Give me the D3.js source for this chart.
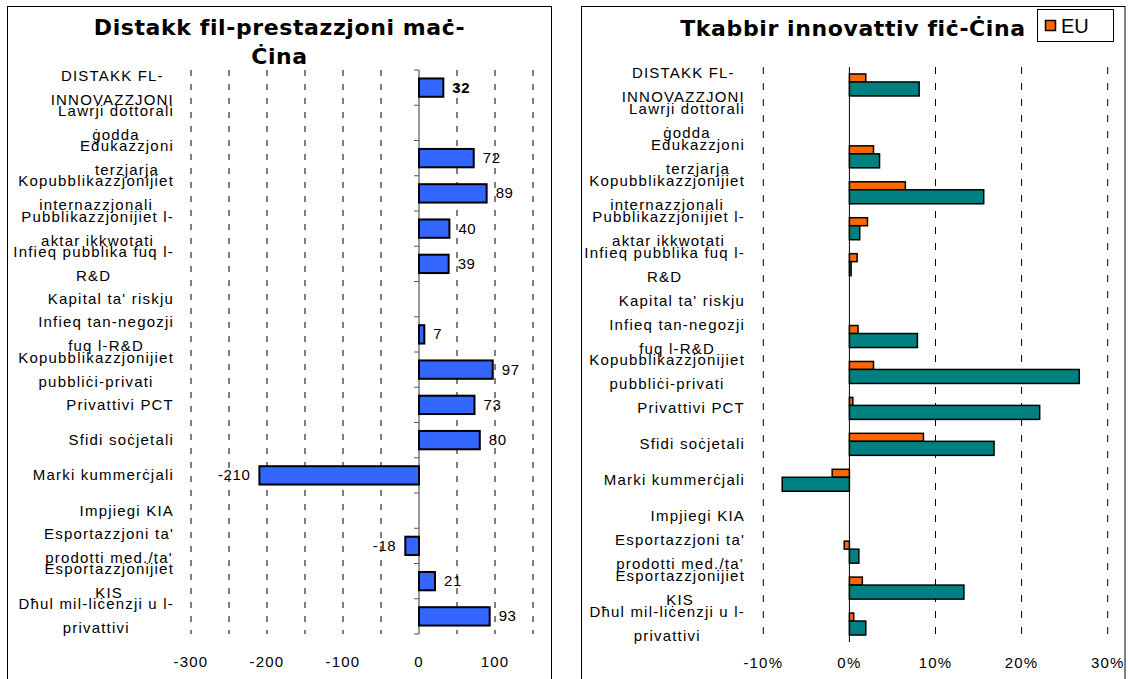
<!DOCTYPE html>
<html>
<head>
<meta charset="utf-8">
<script src="https://cdn.jsdelivr.net/npm/d3@7"></script>
<style>
    body { margin: 0; background: #fff; }
    svg text { font-family: "Liberation Sans", Arial, sans-serif; fill: #000; }
    .title { font-family: "DejaVu Sans", Verdana, sans-serif !important; font-weight: bold; letter-spacing: 0.6px; }
    .lbl { letter-spacing: 1.2px; }
</style>
</head>
<body>
<div id="chart"></div>
<script>
// kategoriji (il-"\n" jaqsam it-tikketta f'żewġ linji)
var categories = [
    "DISTAKK FL-\nINNOVAZZJONI", "Lawrji dottorali\nġodda", "Edukazzjoni\nterzjarja",
    "Kopubblikazzjonijiet\ninternazzjonali", "Pubblikazzjonijiet l-\naktar ikkwotati",
    "Infieq pubblika fuq l-\nR&D", "Kapital ta' riskju", "Infieq tan-negozji\nfuq l-R&D",
    "Kopubblikazzjonijiet\npubbliċi-privati", "Privattivi PCT", "Sfidi soċjetali",
    "Marki kummerċjali", "Impjiegi KIA", "Esportazzjoni ta'\nprodotti med./ta'",
    "Esportazzjonijiet\nKIS", "Dħul mil-liċenzji u l-\nprivattivi"
];
var gapValues = [32, null, 72, 89, 40, 39, null, 7, 97, 73, 80, -210, null, -18, 21, 93];
var euGrowth = [1.9, null, 2.8, 6.5, 2.1, 0.9, null, 1.0, 2.8, 0.4, 8.6, -2.0, null, -0.6, 1.5, 0.5];
var chinaGrowth = [8.1, null, 3.5, 15.6, 1.2, 0.2, null, 7.9, 26.7, 22.1, 16.8, -7.8, null, 1.1, 13.3, 1.9];
var gapTicks = [-300, -200, -100, 0, 100];
var gapGrid = [-300, -250, -200, -150, -100, -50, 50, 100, 150];
var growthTicks = [-10, 0, 10, 20, 30];
var growthGrid = [-10, 10, 20, 30];

var WIDTH = 1128, HEIGHT = 679;

var svg = d3.select("#chart").append("svg")
    .attr("width", WIDTH)
    .attr("height", HEIGHT);

// tikketti tal-kategoriji: linji ċċentrati, l-itwal waħda allinjata mal-lemin
function drawLabels(g, y, rightX) {
    categories.forEach(function (c, i) {
        var lines = c.split("\n");
        var cy = y(i) + y.bandwidth() / 2;
        var texts = lines.map(function (l, j) {
            return g.append("text")
                .attr("class", "lbl")
                .attr("font-size", 15)
                .attr("text-anchor", "middle")
                .attr("y", cy + (j - (lines.length - 1) / 2) * 24 + 5)
                .text(l);
        });
        var maxW = d3.max(texts, function (t) { return t.node().getBBox().width; });
        texts.forEach(function (t) { t.attr("x", rightX - maxW / 2); });
    });
}

function drawGrid(g, x, vals, y0, y1, dash) {
    g.selectAll("line.grid")
        .data(vals).enter()
        .append("line")
        .attr("class", "grid")
        .attr("x1", function (d) { return x(d); })
        .attr("x2", function (d) { return x(d); })
        .attr("y1", y0)
        .attr("y2", y1)
        .attr("stroke", "#000")
        .attr("stroke-width", 1)
        .attr("stroke-dasharray", dash);
}

// ---------- panew tax-xellug ----------
function leftPanel() {
    var g = svg.append("g");
    g.append("rect")
        .attr("x", 7.5).attr("y", 6.5)
        .attr("width", 544).attr("height", 700)
        .attr("fill", "none").attr("stroke", "#000");

    g.append("text").attr("class", "title")
        .attr("x", 279.5).attr("y", 35)
        .attr("text-anchor", "middle").attr("font-size", 22)
        .text("Distakk fil-prestazzjoni maċ-");
    g.append("text").attr("class", "title")
        .attr("x", 279.5).attr("y", 64)
        .attr("text-anchor", "middle").attr("font-size", 22)
        .text("Ċina");

    var x = d3.scaleLinear().domain([-300, 150]).range([191, 533]);
    var y = d3.scaleBand().domain(d3.range(categories.length))
        .range([70, 634]).paddingInner(0.48).paddingOuter(0.24);

    drawGrid(g, x, gapGrid, 70, 634, "6,8");

    // assi vertikali fuq iż-żero b'marki żgħar
    g.append("line")
        .attr("x1", x(0)).attr("x2", x(0)).attr("y1", 70).attr("y2", 634)
        .attr("stroke", "#333");
    g.selectAll("line.tick")
        .data(d3.range(categories.length + 1)).enter()
        .append("line").attr("class", "tick")
        .attr("x1", x(0) - 5).attr("x2", x(0))
        .attr("y1", function (d) { return 70 + d * y.step(); })
        .attr("y2", function (d) { return 70 + d * y.step(); })
        .attr("stroke", "#555");

    var data = gapValues.map(function (v, i) { return { i: i, v: v }; })
        .filter(function (d) { return d.v !== null; });

    g.selectAll("rect.bar")
        .data(data).enter()
        .append("rect").attr("class", "bar")
        .attr("x", function (d) { return x(Math.min(0, d.v)); })
        .attr("width", function (d) { return Math.abs(x(d.v) - x(0)); })
        .attr("y", function (d) { return y(d.i); })
        .attr("height", y.bandwidth())
        .attr("fill", "#3366FF")
        .attr("stroke", "#000")
        .attr("stroke-width", 2);

    g.selectAll("text.val")
        .data(data).enter()
        .append("text").attr("class", "val")
        .attr("font-size", 15)
        .attr("letter-spacing", "0.6px")
        .attr("font-weight", function (d) { return d.i === 0 ? "bold" : "normal"; })
        .attr("text-anchor", function (d) { return d.v < 0 ? "end" : "start"; })
        .attr("x", function (d) { return d.v < 0 ? x(d.v) - 9 : x(d.v) + 9; })
        .attr("y", function (d) { return y(d.i) + y.bandwidth() / 2 + 5; })
        .text(function (d) { return d.v; });

    g.selectAll("text.xt")
        .data(gapTicks).enter()
        .append("text").attr("class", "xt lbl")
        .attr("font-size", 15).attr("text-anchor", "middle")
        .attr("x", function (d) { return x(d); })
        .attr("y", 667)
        .text(function (d) { return d; });

    drawLabels(g, y, 174);
}

// ---------- panew tal-lemin ----------
function rightPanel() {
    var g = svg.append("g");
    g.append("rect")
        .attr("x", 581.5).attr("y", 6.5)
        .attr("width", 543.5).attr("height", 700)
        .attr("fill", "none").attr("stroke", "#000");

    g.append("text").attr("class", "title")
        .attr("x", 853).attr("y", 36)
        .attr("text-anchor", "middle").attr("font-size", 22)
        .text("Tkabbir innovattiv fiċ-Ċina");

    // leġġenda
    var lg = g.append("g");
    lg.append("rect")
        .attr("x", 1037.5).attr("y", 9.5).attr("width", 76).attr("height", 32)
        .attr("fill", "#fff").attr("stroke", "#000");
    lg.append("rect")
        .attr("x", 1045.5).attr("y", 20.5).attr("width", 10).attr("height", 10)
        .attr("fill", "#FF6600").attr("stroke", "#000").attr("stroke-width", 1.5);
    lg.append("text")
        .attr("x", 1061).attr("y", 33).attr("font-size", 20)
        .text("EU");

    var x = d3.scaleLinear().domain([-10, 30]).range([763.3, 1107.7]);
    var y = d3.scaleBand().domain(d3.range(categories.length))
        .range([67, 642]).paddingInner(0.388).paddingOuter(0.194);

    drawGrid(g, x, growthGrid, 67, 642, "7,9");

    g.append("line")
        .attr("x1", x(0)).attr("x2", x(0)).attr("y1", 67).attr("y2", 642)
        .attr("stroke", "#000");

    var bw = y.bandwidth();
    var euH = bw * 8 / 22, cnH = bw * 14 / 22;

    var eu = euGrowth.map(function (v, i) { return { i: i, v: v }; })
        .filter(function (d) { return d.v !== null; });
    var cn = chinaGrowth.map(function (v, i) { return { i: i, v: v }; })
        .filter(function (d) { return d.v !== null; });

    g.selectAll("rect.eu")
        .data(eu).enter()
        .append("rect").attr("class", "eu")
        .attr("x", function (d) { return x(Math.min(0, d.v)); })
        .attr("width", function (d) { return Math.abs(x(d.v) - x(0)); })
        .attr("y", function (d) { return y(d.i); })
        .attr("height", euH)
        .attr("fill", "#FF6600")
        .attr("stroke", "#000")
        .attr("stroke-width", 1.5);

    g.selectAll("rect.cn")
        .data(cn).enter()
        .append("rect").attr("class", "cn")
        .attr("x", function (d) { return x(Math.min(0, d.v)); })
        .attr("width", function (d) { return Math.abs(x(d.v) - x(0)); })
        .attr("y", function (d) { return y(d.i) + euH; })
        .attr("height", cnH)
        .attr("fill", "#008080")
        .attr("stroke", "#000")
        .attr("stroke-width", 1.5);

    g.selectAll("text.xt")
        .data(growthTicks).enter()
        .append("text").attr("class", "xt lbl")
        .attr("font-size", 15).attr("text-anchor", "middle")
        .attr("x", function (d) { return x(d); })
        .attr("y", 668)
        .text(function (d) { return d + "%"; });

    drawLabels(g, y, 745);
}

leftPanel();
rightPanel();
</script>
</body>
</html>
